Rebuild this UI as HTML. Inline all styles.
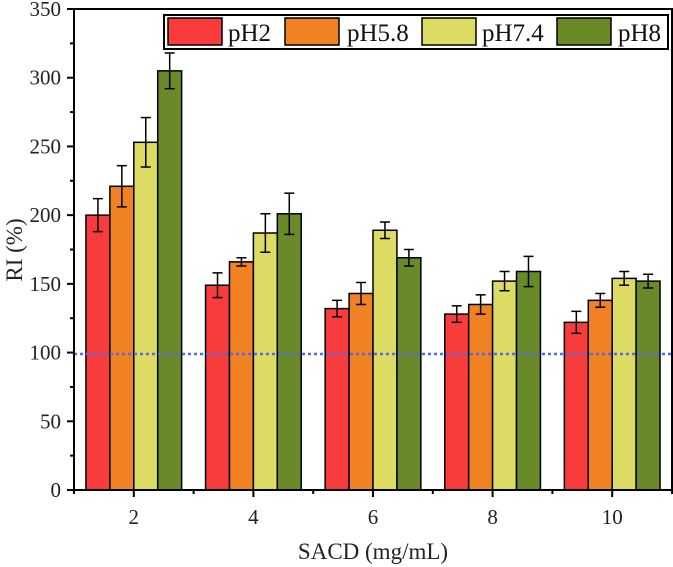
<!DOCTYPE html>
<html><head><meta charset="utf-8"><style>
body{margin:0;background:#fff}
svg{display:block;font-family:"Liberation Serif",serif}
</style></head><body>
<svg id="chart" width="673" height="567"></svg>
<script>
const categories=[2,4,6,8,10];
const seriesNames=["pH2","pH5.8","pH7.4","pH8"];
const pH2=[200,149,132,128,122];
const pH2Err=[12,9,6,6,8];
const pH58=[221,166,143,135,138];
const pH58Err=[15,3,8,7,5];
const pH74=[253,187,189,152,154];
const pH74Err=[18,14,6,7,5];
const pH8=[305,201,169,159,152];
const pH8Err=[13,15,6,11,5];
const yTicks=[0,50,100,150,200,250,300,350];
const refLine=99;
const colors=["#f83c3c","#f08224","#dcdc64","#6a8a2a"];

const NS="http://www.w3.org/2000/svg";
const svg=document.getElementById('chart');
const X0=74,X1=672,Y0=490,Y1=9;
const xs=v=>X0+(v-1)/(11-1)*(X1-X0);
const ys=v=>Y0-v/350*(Y0-Y1);
function el(t,a,p){const e=document.createElementNS(NS,t);for(const k in a)e.setAttribute(k,a[k]);(p||svg).appendChild(e);return e;}
const vals=[pH2,pH58,pH74,pH8],errs=[pH2Err,pH58Err,pH74Err,pH8Err];
const unitW=xs(2)-xs(1), bw=0.4*unitW;
categories.forEach((c,i)=>{
  vals.forEach((s,j)=>{
    const x=xs(c)-2*bw+j*bw;
    const r=el('rect',{x:x,y:ys(s[i]),width:bw,height:Y0-ys(s[i]),fill:colors[j],stroke:'#000','stroke-width':1.5});
    
    
    const cx=x+bw/2,top=ys(s[i]+errs[j][i]),bot=ys(s[i]-errs[j][i]);
    const g=el('g',{stroke:'#000','stroke-width':1.5});
    
    
    el('line',{x1:cx,y1:top,x2:cx,y2:bot},g);
    el('line',{x1:cx-5,y1:top,x2:cx+5,y2:top},g);
    el('line',{x1:cx-5,y1:bot,x2:cx+5,y2:bot},g);
  });
});
const rl=el('line',{x1:X0,y1:ys(refLine),x2:X1,y2:ys(refLine),stroke:'#4f6cf0','stroke-width':2.5,'stroke-dasharray':'3,3'});


const ax=el('g',{stroke:'#000','stroke-width':2,fill:'none'});


el('polyline',{points:`${X0},${Y1} ${X0},${Y0} ${X1},${Y0} ${X1},${Y1} ${X0},${Y1}`},ax);
yTicks.forEach(t=>{
  el('line',{x1:X0-7,y1:ys(t),x2:X0,y2:ys(t)},ax);
  if(t<350){el('line',{x1:X0-4,y1:ys(t+25),x2:X0,y2:ys(t+25)},ax);}
  const tx=el('text',{x:X0-13,y:ys(t)+7,'text-anchor':'end','font-size':21,fill:'#222',stroke:'none'});
  tx.textContent=t;
  
  
});
for(let v=1;v<=11;v++){
  const major=categories.includes(v);
  el('line',{x1:xs(v),y1:Y0,x2:xs(v),y2:Y0+(major?7:4)},ax);
}
categories.forEach(c=>{
  const tx=el('text',{x:xs(c),y:524,'text-anchor':'middle','font-size':21,fill:'#222'});
  tx.textContent=c;
  
  
});
const xt=el('text',{x:373,y:559,'text-anchor':'middle','font-size':23,fill:'#222'});
xt.textContent='SACD (mg/mL)';


const yt=el('text',{x:0,y:0,'text-anchor':'middle','font-size':23,fill:'#222',transform:'translate(22,250) rotate(-90)'});
yt.textContent='RI (%)';


const lg=el('g',{});


el('rect',{x:164,y:15,width:504,height:34,fill:'#fff',stroke:'#000','stroke-width':2},lg);
const sw=[168,285,422,557];
const tw=[228,347,482,618];
seriesNames.forEach((n,j)=>{
  const s=el('rect',{x:sw[j],y:18,width:54,height:27,fill:colors[j],stroke:'#000','stroke-width':1.5},lg);
  
  
  const t=el('text',{x:tw[j],y:41,'font-size':25,fill:'#111'},lg);
  t.textContent=n;
  
  
});
</script>
</body></html>
